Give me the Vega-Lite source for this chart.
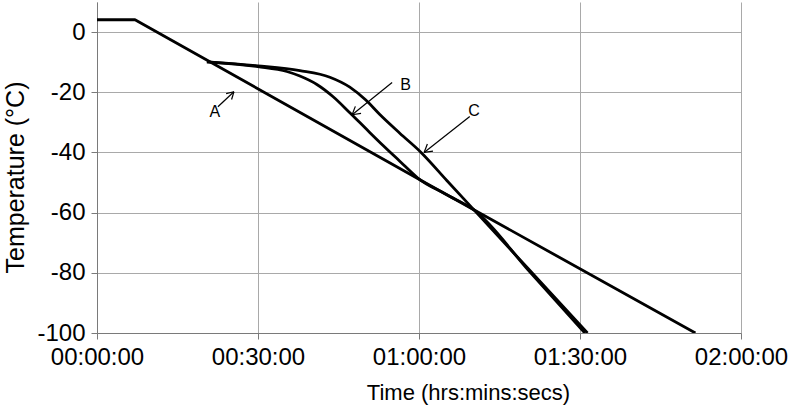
{
  "$schema": "https://vega.github.io/schema/vega-lite/v6.json",
  "width": 644,
  "height": 331,
  "autosize": {"type": "none"},
  "padding": {"left": 97, "top": 2, "right": 51, "bottom": 84},
  "background": "white",
  "config": {
    "view": {"stroke": null},
    "font": "Liberation Sans",
    "axis": {
      "gridColor": "#a9a9a9",
      "gridWidth": 1,
      "domainColor": "#7a7a7a",
      "tickColor": "#7a7a7a",
      "tickSize": 6,
      "labelColor": "black",
      "labelFont": "Liberation Sans",
      "labelFontSize": 24,
      "titleFont": "Liberation Sans",
      "titleFontWeight": "normal",
      "titleColor": "black",
      "labelOverlap": false,
      "labelFlush": false
    }
  },
  "datasets": {
    "curves": [
      {"series": "A", "t": 0, "v": 4.1},
      {"series": "A", "t": 7.08, "v": 4.1},
      {"series": "A", "t": 60, "v": -48.9},
      {"series": "A", "t": 111.5, "v": -100},
      {"series": "B", "t": 20.48, "v": -9.87},
      {"series": "B", "t": 29.98, "v": -11.5},
      {"series": "B", "t": 35.38, "v": -13.1},
      {"series": "B", "t": 37.8, "v": -14.6},
      {"series": "B", "t": 40.97, "v": -17.4},
      {"series": "B", "t": 43.95, "v": -21.4},
      {"series": "B", "t": 47.11, "v": -26.8},
      {"series": "B", "t": 50.28, "v": -32.4},
      {"series": "B", "t": 53.26, "v": -37.6},
      {"series": "B", "t": 56.42, "v": -42.9},
      {"series": "B", "t": 59.78, "v": -48.5},
      {"series": "B", "t": 65.0, "v": -53.9},
      {"series": "B", "t": 70.3, "v": -59.2},
      {"series": "B", "t": 80.6, "v": -79.6},
      {"series": "B", "t": 90.9, "v": -100},
      {"series": "C", "t": 20.48, "v": -9.87},
      {"series": "C", "t": 29.98, "v": -11.2},
      {"series": "C", "t": 37.8, "v": -12.8},
      {"series": "C", "t": 43.39, "v": -15.0},
      {"series": "C", "t": 47.11, "v": -18.3},
      {"series": "C", "t": 50.09, "v": -22.6},
      {"series": "C", "t": 52.7, "v": -27.4},
      {"series": "C", "t": 56.42, "v": -33.6},
      {"series": "C", "t": 60.34, "v": -39.9},
      {"series": "C", "t": 65.18, "v": -49.3},
      {"series": "C", "t": 70.2, "v": -59.0},
      {"series": "C", "t": 80.8, "v": -79.5},
      {"series": "C", "t": 91.4, "v": -100}
    ],
    "arrows": [
      {"t": 22.53, "v": -24.82, "t2": 25.51, "v2": -19.83},
      {"t": 24.06, "v": -20.43, "t2": 25.51, "v2": -19.83},
      {"t": 25.08, "v": -22.39, "t2": 25.51, "v2": -19.83},
      {"t": 54.99, "v": -16.74, "t2": 47.54, "v2": -27.48},
      {"t": 49.2, "v": -27.01, "t2": 47.54, "v2": -27.48},
      {"t": 48.14, "v": -24.68, "t2": 47.54, "v2": -27.48},
      {"t": 69.46, "v": -28.04, "t2": 60.95, "v2": -40.0},
      {"t": 62.61, "v": -39.57, "t2": 60.95, "v2": -40.0},
      {"t": 61.56, "v": -37.21, "t2": 60.95, "v2": -40.0}
    ],
    "labels": [
      {"label": "A", "t": 21.97, "v": -26.4},
      {"label": "B", "t": 57.49, "v": -17.5},
      {"label": "C", "t": 70.26, "v": -26.1}
    ]
  },
  "encoding": {
    "x": {
      "field": "t",
      "type": "quantitative",
      "scale": {"domain": [0, 120], "nice": false, "zero": false},
      "axis": {
        "title": "Time (hrs:mins:secs)",
        "values": [0, 30, 60, 90, 120],
        "grid": true,
        "labelPadding": 6,
        "titleFontSize": 22,
        "titlePadding": 13,
        "titleX": 371,
        "labelExpr": "(floor(datum.value/60) < 10 ? '0' : '') + floor(datum.value/60) + ':' + (datum.value % 60 < 10 ? '0' : '') + (datum.value % 60) + ':00'"
      }
    },
    "y": {
      "field": "v",
      "type": "quantitative",
      "scale": {"domain": [-100, 10], "nice": false, "zero": false},
      "axis": {
        "title": "Temperature (°C)",
        "values": [-100, -80, -60, -40, -20, 0],
        "grid": true,
        "labelPadding": 6,
        "titleFontSize": 25,
        "titlePadding": 8,
        "titleY": 175,
        "labelExpr": "'' + datum.value"
      }
    }
  },
  "layer": [
    {
      "data": {"name": "curves"},
      "transform": [{"filter": "datum.series == 'A'"}],
      "mark": {"type": "line", "color": "black", "strokeWidth": 2.8, "clip": true, "strokeJoin": "round"},
      "encoding": {"detail": {"field": "series"}}
    },
    {
      "data": {"name": "curves"},
      "transform": [{"filter": "datum.series != 'A'"}],
      "mark": {"type": "line", "color": "black", "strokeWidth": 2.8, "clip": true, "strokeJoin": "round", "interpolate": "monotone"},
      "encoding": {"detail": {"field": "series"}}
    },
    {
      "data": {"name": "arrows"},
      "mark": {"type": "rule", "color": "black", "strokeWidth": 1.2},
      "encoding": {"x2": {"field": "t2"}, "y2": {"field": "v2"}}
    },
    {
      "data": {"name": "labels"},
      "mark": {"type": "text", "fontSize": 16, "font": "Liberation Sans", "color": "black", "align": "center", "baseline": "middle"},
      "encoding": {"text": {"field": "label"}}
    }
  ]
}
